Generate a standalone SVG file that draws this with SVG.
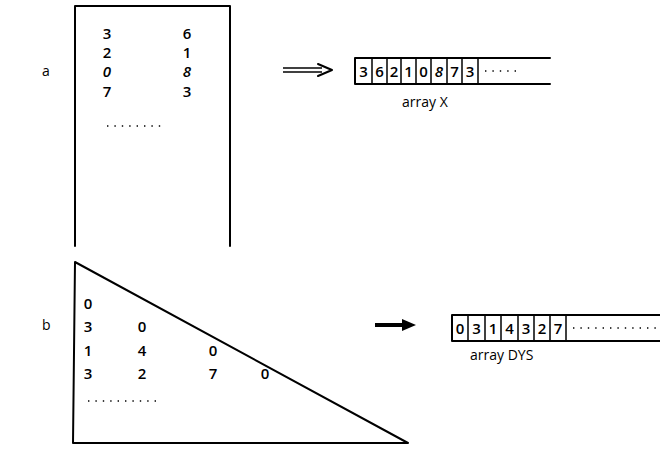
<svg xmlns="http://www.w3.org/2000/svg" width="660" height="449" viewBox="0 0 660 449">
  <style>
    .ln { fill: none; stroke: #000; stroke-width: 2; stroke-linejoin: round; stroke-linecap: round; }
    .thin { fill: none; stroke: #000; stroke-width: 1.5; }
    .num { font-family: "Open Sans", "DejaVu Sans", sans-serif; font-size: 15px; font-weight: 600; fill: #000; text-anchor: middle; }
    .it { font-style: italic; }
    .lbl { font-family: "Open Sans", "DejaVu Sans", sans-serif; font-size: 14px; fill: #000; }
    .dots { fill: none; stroke: #000; stroke-width: 1.4; stroke-dasharray: 1.4 6; }
  </style>
  <rect width="660" height="449" fill="#fff"/>

  <!-- part a: square matrix -->
  <g id="label-a"><text class="lbl" x="42" y="76">a</text></g>
  <g id="matrix-a">
    <path class="ln" d="M75,246 L75,6 L230,6 L230,246"/>
    <text class="num" x="107" y="39">3</text><text class="num" x="187" y="39">6</text>
    <text class="num" x="107" y="58">2</text><text class="num" x="187" y="58">1</text>
    <text class="num it" x="107" y="77">0</text><text class="num it" x="187" y="77">8</text>
    <text class="num" x="107" y="97">7</text><text class="num" x="187" y="97">3</text>
    <line class="dots" x1="107" y1="126" x2="166" y2="126"/>
  </g>

  <!-- part a: packed array -->
  <g id="array-x">
    <path class="ln" d="M550,58 L355,58 L355,84 L550,84"/>
    <g class="thin">
      <line x1="372" y1="58" x2="372" y2="84"/>
      <line x1="387" y1="58" x2="387" y2="84"/>
      <line x1="401" y1="58" x2="401" y2="84"/>
      <line x1="416" y1="58" x2="416" y2="84"/>
      <line x1="431" y1="58" x2="431" y2="84"/>
      <line x1="447" y1="58" x2="447" y2="84"/>
      <line x1="462" y1="58" x2="462" y2="84"/>
      <line x1="478" y1="58" x2="478" y2="84"/>
    </g>
    <text class="num" x="363.5" y="77">3</text>
    <text class="num" x="379.5" y="77">6</text>
    <text class="num" x="394" y="77">2</text>
    <text class="num" x="408.5" y="77">1</text>
    <text class="num" x="423.5" y="77">0</text>
    <text class="num it" x="439" y="77">8</text>
    <text class="num" x="454.5" y="77">7</text>
    <text class="num" x="470" y="77">3</text>
    <line class="dots" x1="485" y1="71" x2="522" y2="71"/>
    <text class="lbl" x="402" y="107">array X</text>
  </g>

  <!-- part b: lower triangular matrix -->
  <g id="label-b"><text class="lbl" x="42" y="330">b</text></g>
  <g id="matrix-b">
    <path class="ln" d="M75,262 L73,443 L408,443 Z"/>
    <text class="num" x="88" y="309">0</text>
    <text class="num" x="88" y="332">3</text><text class="num" x="142" y="332">0</text>
    <text class="num" x="88" y="356">1</text><text class="num" x="142" y="356">4</text><text class="num" x="213" y="356">0</text>
    <text class="num" x="88" y="379">3</text><text class="num" x="142" y="379">2</text><text class="num" x="213" y="379">7</text><text class="num" x="265" y="379">0</text>
    <line class="dots" x1="88" y1="401" x2="162" y2="401"/>
  </g>

  <!-- part b: packed array -->
  <g id="array-dys">
    <path class="ln" d="M660,315 L452,315 L452,341 L660,341"/>
    <g class="thin">
      <line x1="468" y1="315" x2="468" y2="341"/>
      <line x1="485" y1="315" x2="485" y2="341"/>
      <line x1="501" y1="315" x2="501" y2="341"/>
      <line x1="518" y1="315" x2="518" y2="341"/>
      <line x1="534" y1="315" x2="534" y2="341"/>
      <line x1="550" y1="315" x2="550" y2="341"/>
      <line x1="566" y1="315" x2="566" y2="341"/>
    </g>
    <text class="num" x="460" y="334">0</text>
    <text class="num" x="476.5" y="334">3</text>
    <text class="num" x="493" y="334">1</text>
    <text class="num" x="509.5" y="334">4</text>
    <text class="num" x="526" y="334">3</text>
    <text class="num" x="542" y="334">2</text>
    <text class="num" x="558" y="334">7</text>
    <line class="dots" x1="573" y1="328" x2="658" y2="328"/>
    <text class="lbl" x="470" y="360">array DYS</text>
  </g>

  <!-- connectors -->
  <g id="connectors">
    <line class="thin" x1="283" y1="68" x2="322" y2="68"/>
    <line class="thin" x1="283" y1="72" x2="322" y2="72"/>
    <path class="ln" d="M318,64 L332,70 L318,76"/>
    <line x1="375" y1="325" x2="406" y2="325" stroke="#000" stroke-width="4"/>
    <path d="M402,319 L416,325 L402,331 Z" fill="#000"/>
  </g>
</svg>
